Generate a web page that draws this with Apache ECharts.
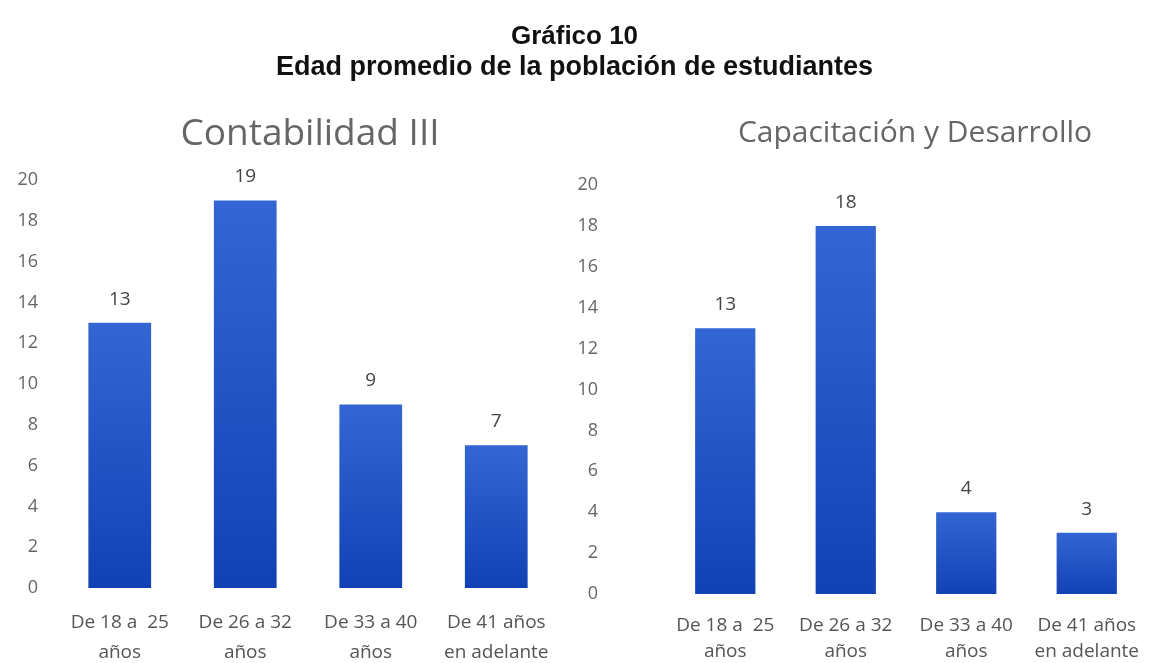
<!DOCTYPE html>
<html>
<head>
<meta charset="utf-8">
<script src="https://cdn.jsdelivr.net/npm/echarts@6/dist/echarts.min.js"></script>
<style>
  html, body { margin: 0; padding: 0; background: #fff; }
  #main { width: 1149px; height: 663px; }
</style>
</head>
<body>
<div id="main"></div>
<script>
// datos
var categorias = ['De 18 a  25\naños', 'De 26 a 32\naños', 'De 33 a 40\naños', 'De 41 años\nen adelante'];
var contabilidad = [13, 19, 9, 7];
var capacitacion = [13, 18, 4, 3];
var yTicks = [0, 2, 4, 6, 8, 10, 12, 14, 16, 18, 20];

var chart = echarts.init(document.getElementById('main'));

var barColor = new echarts.graphic.LinearGradient(0, 0, 0, 1, [
  {offset: 0, color: '#3366d3'},
  {offset: 1, color: '#1241b5'}
]);

function yAxis(idx, margin) {
  return {
    gridIndex: idx,
    type: 'value',
    min: yTicks[0],
    max: yTicks[yTicks.length - 1],
    interval: 2,
    axisLine: {show: false},
    axisTick: {show: false},
    splitLine: {show: false},
    axisLabel: {color: '#666', fontSize: 18, fontFamily: 'Open Sans', margin: margin}
  };
}

function xAxis(idx, margin, lineH) {
  return {
    gridIndex: idx,
    type: 'category',
    data: categorias,
    axisLine: {show: false},
    axisTick: {show: false},
    axisLabel: {color: '#555', fontSize: 19, fontFamily: 'Open Sans', lineHeight: lineH, margin: margin, interval: 0}
  };
}

function serie(idx, data) {
  return {
    type: 'bar',
    xAxisIndex: idx,
    yAxisIndex: idx,
    data: data,
    barWidth: '50%',
    itemStyle: {color: barColor},
    label: {show: true, position: 'top', distance: 14, color: '#444', fontSize: 19, fontFamily: 'Open Sans'}
  };
}

var option = {
  title: [
    {
      text: 'Gráfico 10',
      left: 'center', top: 19,
      textStyle: {fontFamily: 'Liberation Sans', fontWeight: 'bold', fontSize: 26, color: '#111'}
    },
    {
      text: 'Edad promedio de la población de estudiantes',
      left: 'center', top: 49,
      textStyle: {fontFamily: 'Liberation Sans', fontWeight: 'bold', fontSize: 27, color: '#111'}
    },
    {
      text: 'Contabilidad III',
      left: 305, top: 111, textAlign: 'center',
      textStyle: {fontFamily: 'Open Sans', fontWeight: 'normal', fontSize: 37, color: '#666'}
    },
    {
      text: 'Capacitación y Desarrollo',
      left: 910, top: 113, textAlign: 'center',
      textStyle: {fontFamily: 'Open Sans', fontWeight: 'normal', fontSize: 30, color: '#666'}
    }
  ],
  grid: [
    {left: 57, right: 590, top: 180, bottom: 75, outerBoundsMode: 'none'},
    {left: 665, right: 2, top: 185, bottom: 69, outerBoundsMode: 'none'}
  ],
  xAxis: [xAxis(0, 20, 30), xAxis(1, 19, 26)],
  yAxis: [yAxis(0, 19), yAxis(1, 67)],
  series: [serie(0, contabilidad), serie(1, capacitacion)]
};

chart.setOption(option);
</script>
</body>
</html>
